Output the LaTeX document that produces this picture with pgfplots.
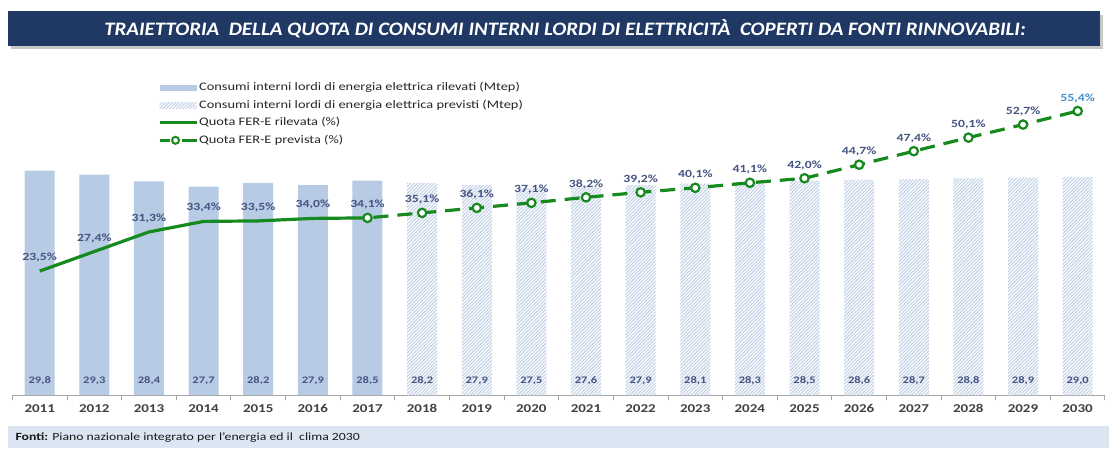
\documentclass[border=0pt]{standalone}
\usepackage{fontspec}
\setmainfont{Carlito}[FakeStretch=1.25]
\newfontfamily\titlefont{Carlito}[FakeStretch=1.1]
\usepackage{pgfplots}
\pgfplotsset{compat=1.18}
\usetikzlibrary{patterns.meta}

\definecolor{navy}{HTML}{1F3864}
\definecolor{barblue}{HTML}{B8CBE5}
\definecolor{hatchblue}{HTML}{C3D2E9}
\definecolor{fgreen}{HTML}{168A1E}
\definecolor{lblcol}{HTML}{465482}
\definecolor{hlcol}{HTML}{4A8FC9}
\definecolor{footbg}{HTML}{DCE6F2}
\definecolor{yearcol}{HTML}{404040}

\pgfplotsset{
  barlbl/.style={
    nodes near coords={\pgfmathprintnumber[fixed,fixed zerofill,precision=1,use comma,assume math mode=true]{\pgfplotspointmeta}},
    visualization depends on=y \as \rawy,
    every node near coord/.append style={shift={(axis direction cs:0,-\rawy)},
      anchor=center, yshift=14pt, font=\bfseries\fontsize{10}{11}\selectfont, text=lblcol},
  },
  forecastbar/.style={fill=white, draw=none,
    postaction={pattern={Lines[angle=45,distance=2.4pt,line width=1.1pt]}, pattern color=hatchblue}},
  geom/.style={at={(12.4pt,53pt)}, anchor=south west, scale only axis,
    width=1092.6pt, height=295pt, xmin=2010.5, xmax=2030.5},
  legbar/.style={legend image code/.code={\path[fill=barblue, draw=none] (0pt,-3pt) rectangle (37pt,3pt);}},
  leghatch/.style={legend image code/.code={\path[fill=white, draw=none] (0pt,-3pt) rectangle (37pt,3pt);
    \path[draw=none, pattern={Lines[angle=45,distance=2.4pt,line width=1.1pt]}, pattern color=hatchblue] (0pt,-3pt) rectangle (37pt,3pt);}},
  legsolid/.style={legend image code/.code={\draw[solid, fgreen, line width=3.2pt] (0pt,0pt) -- (37pt,0pt);}},
  legdash/.style={legend image code/.code={\draw[solid, fgreen, line width=3.2pt] (0pt,0pt) -- (10pt,0pt) (22pt,0pt) -- (37pt,0pt);
    \draw[solid, fgreen, line width=2pt, fill=white] (16pt,0pt) circle (3.5pt);}},
}

\begin{document}
\begin{tikzpicture}[x=1pt,y=1pt]
\path[use as bounding box] (0,0) rectangle (1109,448);
% title banner
\fill[black!22] (11,399) rectangle (1103,433);
\fill[navy] (8,402) rectangle (1100,437);
\node[text=white, font=\titlefont\bfseries\itshape\fontsize{19}{21}\selectfont] at (565,419.5)
  {TRAIETTORIA\ \ DELLA QUOTA DI CONSUMI INTERNI LORDI DI ELETTRICITÀ\ \ COPERTI DA FONTI RINNOVABILI:};
% footer
\fill[footbg] (8,0) rectangle (1109,22);
\node[anchor=west, font=\fontsize{11}{12}\selectfont, text=black!90] at (12,10.5)
  {\textbf{Fonti:} Piano nazionale integrato per l’energia ed il\ \ clima 2030};

% bars
\begin{axis}[geom, ymin=0, ymax=39.2,
  axis y line=none, axis x line*=bottom,
  axis line style={draw=gray!70, line width=1pt},
  xtick={2011,...,2030}, major tick length=0pt,
  minor xtick={2010.5,2011.5,...,2030.5}, minor tick length=5pt,
  tick align=outside, minor tick style={draw=gray!70, line width=0.8pt},
  xticklabel style={font=\bfseries\fontsize{12}{14}\selectfont, text=yearcol, yshift=-6pt},
  /pgf/number format/1000 sep={}, /pgf/number format/assume math mode=true,
  clip=false]
\addplot[ybar, bar width=30pt, bar shift=0pt, fill=barblue, draw=none, barlbl] coordinates {
  (2011,29.8) (2012,29.3) (2013,28.4) (2014,27.7) (2015,28.2) (2016,27.9) (2017,28.5)};
\addplot[ybar, bar width=30pt, bar shift=0pt, forecastbar, barlbl] coordinates {
  (2018,28.2) (2019,27.9) (2020,27.5) (2021,27.6) (2022,27.9) (2023,28.1) (2024,28.3)
  (2025,28.5) (2026,28.6) (2027,28.7) (2028,28.8) (2029,28.9) (2030,29.0)};
\end{axis}

% share lines
\begin{axis}[geom, ymin=-1.2, ymax=57.6, hide axis, clip=false,
  /pgf/number format/assume math mode=true,
  legend style={at={(0.133,1.064)}, anchor=north west, draw=none, fill=none,
    font=\fontsize{11.5}{13}\selectfont, text=black!85, row sep=4.5pt, inner sep=0pt,
    nodes={inner sep=1pt, text height=8.5pt, text depth=2.5pt}},
  legend cell align=left,
  every node near coord/.append style={font=\bfseries\fontsize{11}{13}\selectfont,
    text=lblcol, anchor=south, yshift=4pt}]
\addlegendimage{legbar}
\addlegendentry{Consumi interni lordi di energia elettrica rilevati (Mtep)}
\addlegendimage{leghatch}
\addlegendentry{Consumi interni lordi di energia elettrica previsti (Mtep)}
\addplot[fgreen, line width=3.2pt, no marks, legsolid, point meta=y,
  nodes near coords={\pgfmathprintnumber[fixed,fixed zerofill,precision=1,use comma,assume math mode=true]{\pgfplotspointmeta}\%}]
  coordinates {(2011,23.5) (2012,27.4) (2013,31.3) (2014,33.4) (2015,33.5) (2016,34.0) (2017,34.1)};
\addlegendentry{Quota FER-E rilevata (\%)}
\addplot[fgreen, line width=3.2pt, dash pattern=on 15pt off 9pt, dash phase=-6pt,
  mark=*, mark size=4.2pt, mark options={solid, fill=white, draw=fgreen, line width=2.2pt},
  legdash, point meta=explicit symbolic, nodes near coords]
  coordinates {(2017,34.1)[] (2018,35.1)[35,1\%] (2019,36.1)[36,1\%] (2020,37.1)[37,1\%]
  (2021,38.2)[38,2\%] (2022,39.2)[39,2\%] (2023,40.1)[40,1\%] (2024,41.1)[41,1\%]
  (2025,42.0)[42,0\%] (2026,44.7)[44,7\%] (2027,47.4)[47,4\%] (2028,50.1)[50,1\%]
  (2029,52.7)[52,7\%] (2030,55.4)[\textcolor{hlcol}{55,4\%}]};
\addlegendentry{Quota FER-E prevista (\%)}
\end{axis}
\end{tikzpicture}
\end{document}
